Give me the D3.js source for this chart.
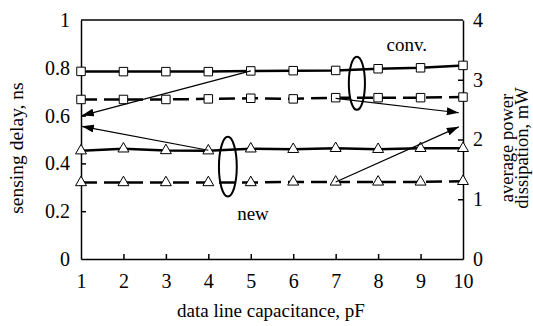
<!DOCTYPE html>
<html><head><meta charset="utf-8">
<script src="https://cdn.jsdelivr.net/npm/d3@7"></script>
<style>body{margin:0;background:#fff}svg{display:block}text{font-family:"Liberation Serif","DejaVu Serif",serif;fill:#000}</style>
</head><body><svg id="c" width="533" height="326"></svg>
<script>
const capacitance = [1,2,3,4,5,6,7,8,9,10];
const convDelay = [0.785,0.784,0.784,0.784,0.787,0.788,0.789,0.796,0.800,0.810];
const convPower = [2.67,2.67,2.67,2.68,2.69,2.68,2.70,2.70,2.70,2.71];
const newDelay = [0.453,0.461,0.454,0.453,0.461,0.459,0.463,0.459,0.463,0.463];
const newPower = [1.28,1.28,1.28,1.28,1.28,1.29,1.29,1.29,1.29,1.30];
const xTicks = [1,2,3,4,5,6,7,8,9,10];
const leftTicks = [0,0.2,0.4,0.6,0.8,1];
const rightTicks = [0,1,2,3,4];
// annotation arrows in left-axis data units: [x1,y1,x2,y2]
const arrows = [[5,0.787,1.02,0.600],[4,0.455,1.02,0.555],[7,0.672,9.9,0.612],[7,0.322,9.9,0.553]];
const ellipses = [[7.5,0.735,0.19,0.111],[4.46,0.386,0.21,0.125]];
const labels = [["conv.",8.2,0.872],["new",4.68,0.165]];

const svg = d3.select("#c");
const L=81,R=463,T=20,B=259;
const x = d3.scaleLinear().domain([1,10]).range([L,R]);
const yL = d3.scaleLinear().domain([0,1]).range([B,T]);
const yR = d3.scaleLinear().domain([0,4]).range([B,T]);

svg.append("defs").append("marker").attr("id","ah").attr("viewBox","0 0 12 8")
 .attr("refX",12).attr("refY",4).attr("markerWidth",12).attr("markerHeight",8)
 .attr("markerUnits","userSpaceOnUse").attr("orient","auto")
 .append("path").attr("d","M0,0L12,4L0,8Z").attr("fill","#000");

// axes
const ax = svg.append("g").attr("transform",`translate(0,${B})`)
 .call(d3.axisBottom(x).tickValues(xTicks).tickSizeInner(-5).tickSizeOuter(0).tickPadding(15).tickFormat(d3.format("d")));
const ayl = svg.append("g").attr("transform",`translate(${L},0)`)
 .call(d3.axisLeft(yL).tickValues(leftTicks).tickSizeInner(-5).tickSizeOuter(0).tickPadding(11).tickFormat(d=>d===0||d===1?String(d):d3.format(".1f")(d)));
const ayr = svg.append("g").attr("transform",`translate(${R},0)`)
 .call(d3.axisRight(yR).tickValues(rightTicks).tickSizeInner(-5).tickSizeOuter(0).tickPadding(10).tickFormat(d3.format("d")));
[ax,ayl,ayr].forEach(g=>{g.attr("font-family","Liberation Serif").attr("font-size",20);
 g.select(".domain").attr("stroke","#000").attr("stroke-width",1.5);
 g.selectAll(".tick line").attr("stroke","#000").attr("stroke-width",1.5);
 g.selectAll(".tick text").attr("font-family","Liberation Serif").attr("font-size",20);});
ax.selectAll(".tick").filter(d=>d===1||d===10).select("line").remove();
ayl.selectAll(".tick").filter(d=>d===0||d===1).select("line").remove();
ayr.selectAll(".tick").filter(d=>d===0||d===4).select("line").remove();
svg.append("line").attr("x1",L).attr("x2",R).attr("y1",T).attr("y2",T).attr("stroke","#000").attr("stroke-width",1.5);

// series
function series(vals, yS, dashed, shape){
 const pts = capacitance.map((c,i)=>[x(c),yS(vals[i])]);
 svg.append("path").attr("d",d3.line()(pts)).attr("fill","none").attr("stroke","#000")
  .attr("stroke-width",2.5).attr("stroke-dasharray",dashed?"16,7":null);
 const sym = d3.symbol().type(shape==="sq"?d3.symbolSquare:d3.symbolTriangle).size(shape==="sq"?72:52);
 svg.append("g").selectAll("path").data(pts).join("path")
  .attr("transform",d=>`translate(${d[0]},${d[1]})`).attr("d",sym())
  .attr("fill","#fff").attr("stroke","#000").attr("stroke-width",1);
}
series(convDelay,yL,false,"sq");
series(convPower,yR,true,"sq");
series(newDelay,yL,false,"tri");
series(newPower,yR,true,"tri");

// annotations
arrows.forEach(a=>svg.append("line").attr("x1",x(a[0])).attr("y1",yL(a[1])).attr("x2",x(a[2])).attr("y2",yL(a[3]))
 .attr("stroke","#000").attr("stroke-width",1.2).attr("marker-end","url(#ah)"));
ellipses.forEach(e=>svg.append("ellipse").attr("cx",x(e[0])).attr("cy",yL(e[1]))
 .attr("rx",x(1+e[2])-x(1)).attr("ry",yL(0)-yL(e[3])).attr("fill","none").attr("stroke","#000").attr("stroke-width",2));
labels.forEach(l=>svg.append("text").attr("x",x(l[1])).attr("y",yL(l[2])).attr("font-size",19).text(l[0]));

// titles
svg.append("text").attr("x",271).attr("y",317).attr("text-anchor","middle").attr("font-size",19).text("data line capacitance, pF");
svg.append("text").attr("transform",`translate(23,148) rotate(-90)`).attr("text-anchor","middle").attr("font-size",19.5).text("sensing delay, ns");
const rt = svg.append("text").attr("transform",`translate(513,148) rotate(-90)`).attr("text-anchor","middle").attr("font-size",18.5);
rt.append("tspan").attr("x",0).attr("dy",0).text("average power");
rt.append("tspan").attr("x",0).attr("dy",14.5).text("dissipation, mW");
</script></body></html>
